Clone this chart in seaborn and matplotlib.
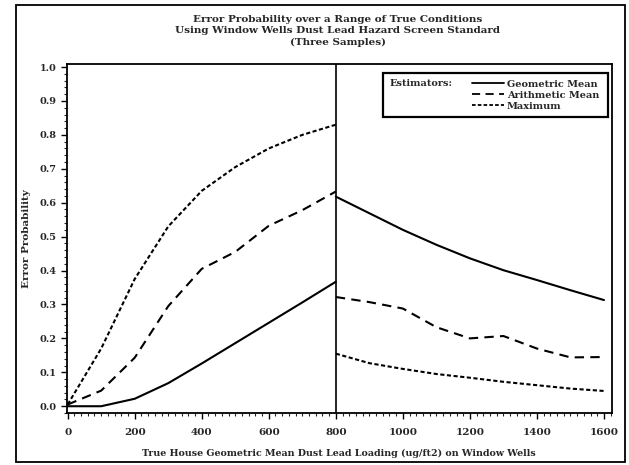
import numpy as np
import pandas as pd
import matplotlib
matplotlib.use("Agg")
import matplotlib.pyplot as plt
from matplotlib.patches import Rectangle
from matplotlib.lines import Line2D
from matplotlib.ticker import MultipleLocator, FormatStrFormatter
import seaborn as sns

# True house geometric mean loading, below and above the 800 ug/ft2 standard
x_below = [0, 100, 200, 300, 400, 500, 600, 700, 800]
x_above = [800, 900, 1000, 1100, 1200, 1300, 1400, 1500, 1600]

# Error probabilities: false negatives below the standard
geo_below = [0.0, 0.0, 0.022, 0.068, 0.126, 0.186, 0.246, 0.306, 0.367]
arith_below = [0.005, 0.046, 0.143, 0.295, 0.405, 0.455, 0.532, 0.578, 0.633]
max_below = [0.005, 0.17, 0.375, 0.53, 0.635, 0.705, 0.76, 0.80, 0.83]

# Error probabilities: false positives above the standard
geo_above = [0.618, 0.569, 0.52, 0.476, 0.436, 0.401, 0.372, 0.342, 0.313]
arith_above = [0.322, 0.307, 0.288, 0.233, 0.2, 0.207, 0.17, 0.144, 0.145]
max_above = [0.155, 0.127, 0.11, 0.095, 0.084, 0.072, 0.062, 0.052, 0.045]

estimators = ["Geometric Mean", "Arithmetic Mean", "Maximum"]

rows = []
for name, lo, hi in zip(estimators,
                        [geo_below, arith_below, max_below],
                        [geo_above, arith_above, max_above]):
    for xv, yv in zip(x_below, lo):
        rows.append((name, "below", xv, yv))
    for xv, yv in zip(x_above, hi):
        rows.append((name, "above", xv, yv))
df = pd.DataFrame(rows, columns=["estimator", "segment", "loading", "prob"])

sns.set_style("ticks")
plt.rcParams["font.family"] = ["DejaVu Serif"]
plt.rcParams["font.weight"] = "bold"

fig = plt.figure(figsize=(6.29, 4.65), dpi=100)
ax = fig.add_axes([0.1065, 0.1118, 0.866, 0.7506])

dash_styles = {
    "Geometric Mean": "",
    "Arithmetic Mean": (4.5, 3.0),
    "Maximum": (2.0, 1.2),
}
sns.lineplot(data=df, x="loading", y="prob", hue="estimator", style="estimator",
             units="segment", estimator=None, sort=False,
             palette=["black"] * 3, dashes=dash_styles, linewidth=1.5,
             legend=False, ax=ax)

ax.axvline(800, color="black", linewidth=1.2)

ax.set_xlim(-2, 1623)
ax.set_ylim(-0.02, 1.009)
ax.xaxis.set_major_locator(MultipleLocator(200))
ax.xaxis.set_minor_locator(MultipleLocator(20))
ax.yaxis.set_major_locator(MultipleLocator(0.1))
ax.yaxis.set_minor_locator(MultipleLocator(0.02))
ax.yaxis.set_major_formatter(FormatStrFormatter("%.1f"))
ax.tick_params(axis="both", which="major", length=4, width=1.0, labelsize=7.5,
               direction="out", color="black")
ax.tick_params(axis="y", which="major", labelsize=7)
ax.tick_params(axis="both", which="minor", length=2.5, width=0.8, direction="out")
ax.tick_params(axis="x", pad=7)
for lab in ax.get_xticklabels() + ax.get_yticklabels():
    lab.set_fontweight("bold")
for sp in ax.spines.values():
    sp.set_visible(True)
    sp.set_linewidth(1.3)
    sp.set_color("black")

ax.set_xlabel("True House Geometric Mean Dust Lead Loading (ug/ft2) on Window Wells",
              fontsize=6.8, fontweight="bold", labelpad=8)
ax.set_ylabel("Error Probability", fontsize=7.5, fontweight="bold", labelpad=6)

fig.text(0.537, 0.968, "Error Probability over a Range of True Conditions\n"
         "Using Window Wells Dust Lead Hazard Screen Standard\n(Three Samples)",
         ha="center", va="top", fontsize=7.5, fontweight="bold", linespacing=1.35)

# Legend box in the upper right of the axes
fig.patches.append(Rectangle((383 / 629, 1 - 117 / 465), 225 / 629, 44 / 465,
                             transform=fig.transFigure, fill=False,
                             edgecolor="black", linewidth=1.6))
fig.text(390 / 629, 1 - 83 / 465, "Estimators:", fontsize=7, fontweight="bold",
         ha="left", va="center")
handles = [Line2D([], [], color="black", linewidth=1.3,
                  linestyle=(0, dash_styles[n]) if dash_styles[n] else "-")
           for n in estimators]
fig.legend(handles, estimators, loc="upper left",
           bbox_to_anchor=(466 / 629, 1 - 74 / 465), frameon=False,
           handlelength=3.3, handletextpad=0.3, labelspacing=0.2,
           borderpad=0.1, prop={"weight": "bold", "size": 7})

# Outer frame around the whole figure
fig.patches.append(Rectangle((16 / 629, 1 - 462 / 465), 609 / 629, 457 / 465,
                             transform=fig.transFigure, fill=False,
                             edgecolor="black", linewidth=1.3))

fig.savefig("out.png", dpi=100)
